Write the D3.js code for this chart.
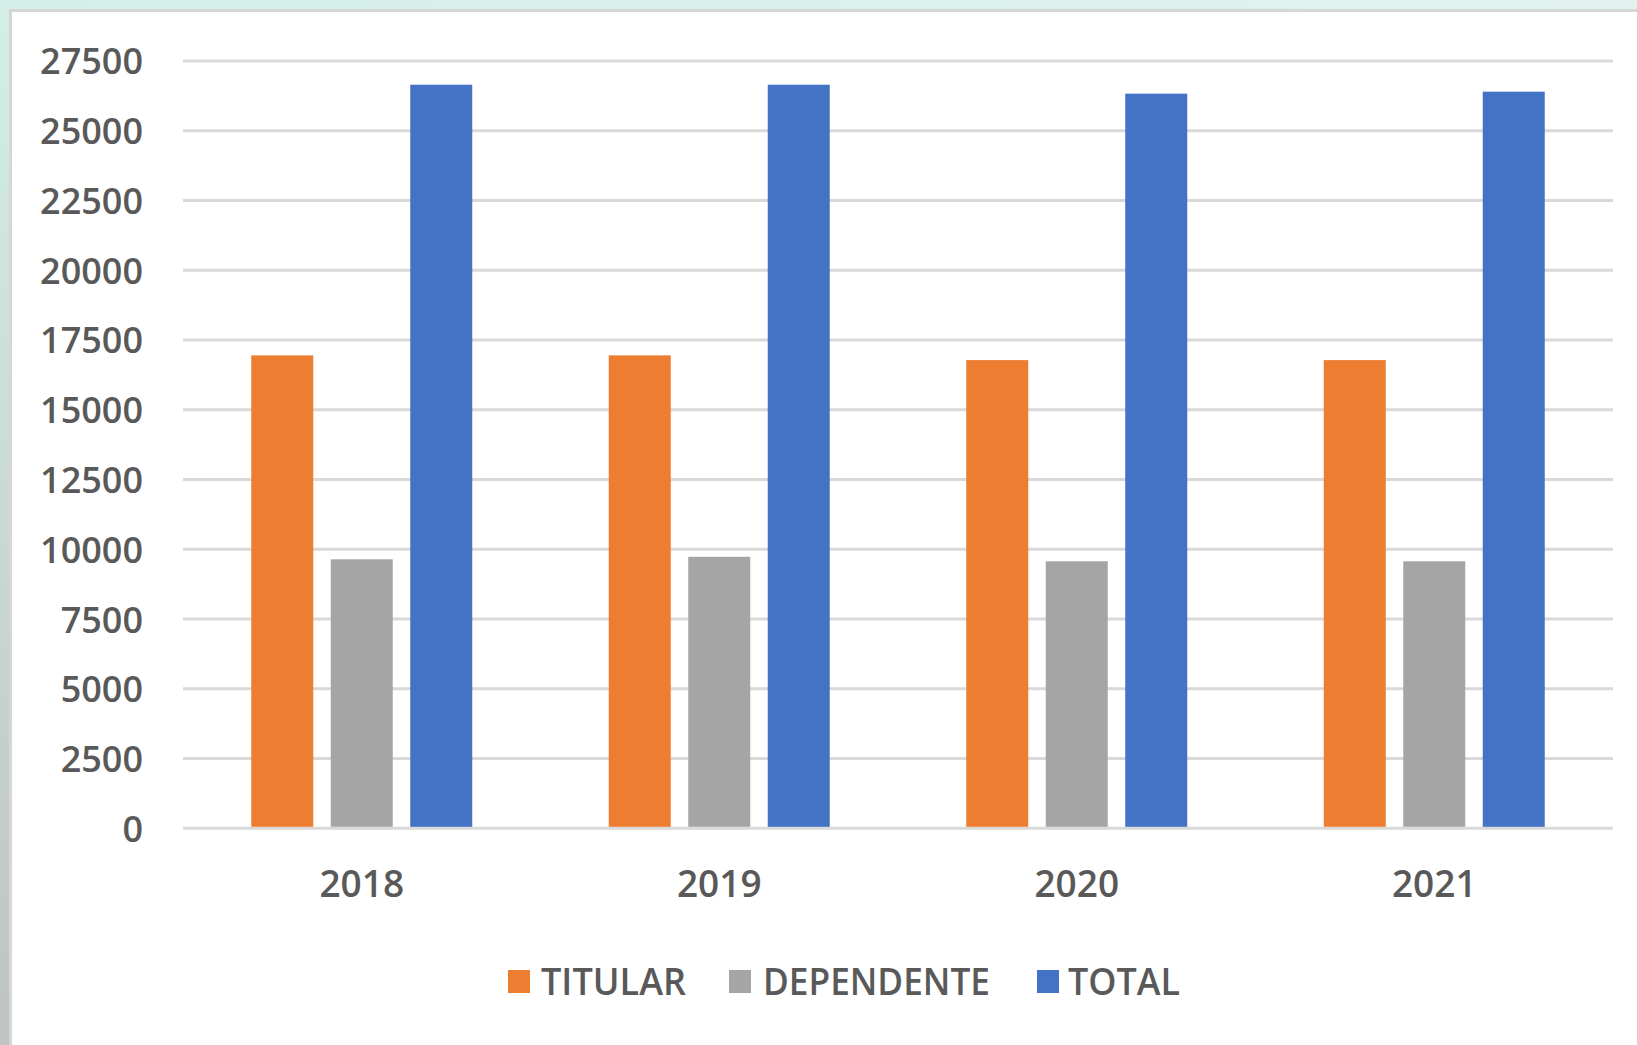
<!DOCTYPE html>
<html>
<head>
<meta charset="utf-8">
<script src="https://cdn.jsdelivr.net/npm/d3@7"></script>
<style>
  html, body { margin: 0; padding: 0; }
  body { width: 1637px; height: 1045px; overflow: hidden; }
  svg { display: block; }
</style>
</head>
<body>
<svg id="chart" width="1637" height="1045"></svg>
<script>
const categories = ["2018", "2019", "2020", "2021"];
const seriesNames = ["TITULAR", "DEPENDENTE", "TOTAL"];
const titular = [16950, 16950, 16780, 16780];
const dependente = [9640, 9730, 9570, 9570];
const total = [26650, 26650, 26330, 26400];
const yTicks = [0, 2500, 5000, 7500, 10000, 12500, 15000, 17500, 20000, 22500, 25000, 27500];
const colors = ["#ED7D31", "#A5A5A5", "#4472C4"];

const seriesValues = [titular, dependente, total];
const rows = categories.map((c, i) => ({
  cat: c,
  vals: seriesNames.map((s, j) => ({ series: s, value: seriesValues[j][i] }))
}));

const svg = d3.select("#chart");
const defs = svg.append("defs");
const gLeft = defs.append("linearGradient").attr("id", "leftGrad").attr("x1", 0).attr("y1", 0).attr("x2", 0).attr("y2", 1);
gLeft.append("stop").attr("offset", "0%").attr("stop-color", "#d3efe8");
gLeft.append("stop").attr("offset", "100%").attr("stop-color", "#bfc3c2");
const gTop = defs.append("linearGradient").attr("id", "topGrad").attr("x1", 0).attr("y1", 0).attr("x2", 1).attr("y2", 0);
gTop.append("stop").attr("offset", "0%").attr("stop-color", "#d3efe8");
gTop.append("stop").attr("offset", "100%").attr("stop-color", "#e2f3ef");

// background
svg.append("rect").attr("x", 0).attr("y", 0).attr("width", 1637).attr("height", 1045).attr("fill", "url(#topGrad)");
svg.append("rect").attr("x", 0).attr("y", 0).attr("width", 12).attr("height", 1045).attr("fill", "url(#leftGrad)");
// white panel
svg.append("rect").attr("x", 10.5).attr("y", 10.5).attr("width", 1640).attr("height", 1050)
  .attr("fill", "#ffffff").attr("stroke", "#d6d6d6").attr("stroke-width", 3);

const x0 = d3.scaleBand().domain(categories).range([183, 1613]).padding(0);
const x1 = d3.scaleBand().domain(seriesNames).range([-110.5, 110.5]).paddingInner(0.22).paddingOuter(0);
const y = d3.scaleLinear().domain([0, 27500]).range([828.3, 61]);
const color = d3.scaleOrdinal().domain(seriesNames).range(colors);

const fontFam = "'Open Sans', 'DejaVu Sans', sans-serif";
const textCol = "#595959";

// gridlines
svg.append("g").selectAll("line").data(yTicks).join("line")
  .attr("x1", 183).attr("x2", 1613)
  .attr("y1", d => y(d)).attr("y2", d => y(d))
  .attr("stroke", "#d9d9d9").attr("stroke-width", 3);

// y axis via d3.axisLeft (labels only)
const yAxis = svg.append("g").attr("transform", "translate(183,0)")
  .call(d3.axisLeft(y).tickValues(yTicks).tickSize(0).tickPadding(40).tickFormat(d3.format("d")));
yAxis.select(".domain").remove();
yAxis.selectAll("text")
  .attr("font-family", fontFam).attr("font-size", 36).attr("font-weight", 600)
  .attr("fill", textCol).attr("dy", "0.36em");

// bars
const groups = svg.append("g").selectAll("g").data(rows).join("g")
  .attr("transform", d => `translate(${x0(d.cat) + x0.bandwidth() / 2},0)`);
groups.selectAll("rect").data(d => d.vals).join("rect")
  .attr("x", d => x1(d.series))
  .attr("width", x1.bandwidth())
  .attr("y", d => y(d.value))
  .attr("height", d => y(0) - y(d.value) - 1.5)
  .attr("fill", d => color(d.series));

// x axis labels
const xAxis = svg.append("g").attr("transform", "translate(0,828.3)")
  .call(d3.axisBottom(x0).tickSize(0).tickPadding(42));
xAxis.select(".domain").remove();
xAxis.selectAll("text")
  .attr("font-family", fontFam).attr("font-size", 37).attr("font-weight", 600)
  .attr("fill", textCol).attr("dy", "0.71em");

// legend
const legendItems = [
  { name: "TITULAR", sx: 508, tx: 541, tw: 145 },
  { name: "DEPENDENTE", sx: 729, tx: 763, tw: 227 },
  { name: "TOTAL", sx: 1037, tx: 1068, tw: 112 }
];
const legend = svg.append("g");
legend.selectAll("rect").data(legendItems).join("rect")
  .attr("x", d => d.sx).attr("y", 970).attr("width", 22).attr("height", 23)
  .attr("fill", d => color(d.name));
legend.selectAll("text").data(legendItems).join("text")
  .attr("x", d => d.tx).attr("y", 995)
  .attr("font-family", fontFam).attr("font-size", 37).attr("font-weight", 600)
  .attr("fill", textCol)
  .attr("textLength", d => d.tw).attr("lengthAdjust", "spacingAndGlyphs")
  .text(d => d.name);
</script>
</body>
</html>
